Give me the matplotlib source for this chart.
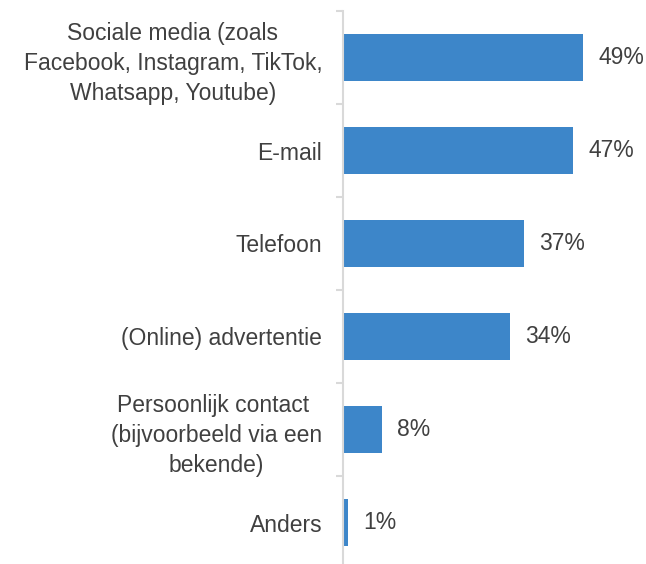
import matplotlib
matplotlib.use("Agg")
import matplotlib.pyplot as plt
import numpy as np

categories = [
    "Sociale media (zoals\nFacebook, Instagram, TikTok,\nWhatsapp, Youtube)",
    "E-mail",
    "Telefoon",
    "(Online) advertentie",
    "Persoonlijk contact \n(bijvoorbeeld via een\nbekende)",
    "Anders",
]
values = [49, 47, 37, 34, 8, 1]
value_labels = ["49%", "47%", "37%", "34%", "8%", "1%"]

plt.rcParams['font.family'] = ['Liberation Sans', 'DejaVu Sans']

fig = plt.figure(figsize=(6.46, 5.64), dpi=100)
W, H = 646, 564
x0, x1 = 343, 646
ytop, ybot = 11, 569
ax = fig.add_axes([x0 / W, (H - ybot) / H, (x1 - x0) / W, (ybot - ytop) / H])

n = len(categories)
ypos = np.arange(n)
bar_color = '#3D86C9'
text_color = '#404040'
ax.barh(ypos, values, height=0.5, color=bar_color)
ax.set_ylim(n - 0.5, -0.5)
ax.set_xlim(0, (x1 - x0) / 4.9)

for y, v, lab in zip(ypos, values, value_labels):
    ax.text(v + 3.1, y, lab, va='center', ha='left', fontsize=16.5, color=text_color)

ax.set_yticks(ypos)
ax.set_yticklabels(categories, fontsize=16.5, color=text_color, ha='right',
                   linespacing=1.4, multialignment='center')
ax.tick_params(axis='y', which='major', length=0, pad=15)
ax.set_yticks(np.arange(-0.5, n, 1.0), minor=True)
ax.tick_params(axis='y', which='minor', length=5, width=1.5, color='#D9D9D9')
ax.set_xticks([])
for s in ['top', 'right', 'bottom']:
    ax.spines[s].set_visible(False)
ax.spines['left'].set_color('#D9D9D9')
ax.spines['left'].set_linewidth(1.5)

fig.savefig("out.png", dpi=100)
